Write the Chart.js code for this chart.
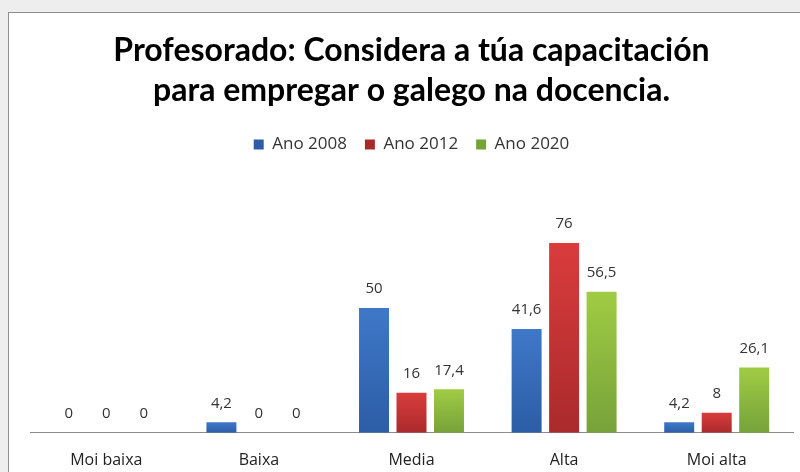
<!DOCTYPE html>
<html>
<head>
<meta charset="utf-8">
<script src="https://cdn.jsdelivr.net/npm/chart.js@4"></script>
<style>
  html, body { margin: 0; padding: 0; }
  body { width: 800px; height: 472px; background: #eeeeee; position: relative; overflow: hidden; }
  #box { position: absolute; left: 8px; top: 12px; width: 820px; height: 500px; background: #ffffff; border: 1px solid #8e8e8e; }
  #c { position: absolute; left: 0; top: 0; }
</style>
</head>
<body>
<div id="box"></div>
<canvas id="c" width="800" height="472"></canvas>
<script>
const titleLines = ["Profesorado: Considera a túa capacitación", "para empregar o galego na docencia."];
const categories = ["Moi baixa", "Baixa", "Media", "Alta", "Moi alta"];
const seriesNames = ["Ano 2008", "Ano 2012", "Ano 2020"];
const values2008 = [0, 4.2, 50, 41.6, 4.2];
const values2012 = [0, 0, 16, 76, 8];
const values2020 = [0, 0, 17.4, 56.5, 26.1];
const colorTop = ["#3f78c8", "#da3c3c", "#a0cc44"];
const colorBottom = ["#2c5da6", "#aa2a2c", "#76a23a"];
const legendColors = ["#3a6fbf", "#c83232", "#8fbc3e"];

function barFill(i) {
  return function (ctx) {
    const chart = ctx.chart;
    const area = chart.chartArea;
    if (!area || ctx.type !== 'data') return legendColors[i];
    const y = chart.scales.y;
    const v = ctx.raw || 0;
    const top = y.getPixelForValue(v);
    const bottom = y.getPixelForValue(0);
    if (!isFinite(top) || bottom - top < 1) return colorBottom[i];
    const g = chart.ctx.createLinearGradient(0, top, 0, bottom);
    g.addColorStop(0, colorTop[i]);
    g.addColorStop(1, colorBottom[i]);
    return g;
  };
}

const allValues = [values2008, values2012, values2020];
const datasets = allValues.map((vals, i) => ({
  label: seriesNames[i],
  data: vals,
  backgroundColor: barFill(i),
  borderWidth: 0,
  categoryPercentage: 0.737,
  barPercentage: 0.8
}));

const legendGap = {
  id: 'legendGap',
  beforeInit(chart) {
    if (!chart.legend) return;
    const orig = chart.legend.fit;
    chart.legend.fit = function () {
      orig.bind(chart.legend)();
      this.height += 70;
    };
  }
};

const valueLabels = {
  id: 'valueLabels',
  afterDatasetsDraw(chart) {
    const ctx = chart.ctx;
    ctx.save();
    ctx.font = '15px "Open Sans"';
    ctx.fillStyle = '#333333';
    ctx.textAlign = 'center';
    ctx.textBaseline = 'middle';
    chart.data.datasets.forEach((ds, di) => {
      const meta = chart.getDatasetMeta(di);
      meta.data.forEach((el, idx) => {
        const v = ds.data[idx];
        ctx.fillText(String(v).replace('.', ','), el.x, el.y - 19);
      });
    });
    ctx.restore();
  }
};

new Chart(document.getElementById('c'), {
  type: 'bar',
  data: { labels: categories, datasets: datasets },
  options: {
    responsive: false,
    devicePixelRatio: 1,
    animation: false,
    layout: { padding: { left: 30, right: 7, top: 0, bottom: -16 } },
    plugins: {
      title: {
        display: true,
        text: titleLines,
        color: '#000000',
        font: { family: 'Lato', weight: 'bold', size: 32, lineHeight: 1.25 },
        padding: { top: 31, bottom: 7 }
      },
      legend: {
        display: true,
        labels: {
          boxWidth: 10,
          boxHeight: 10,
          padding: 18,
          color: '#333333',
          font: { family: 'Open Sans', size: 17 }
        }
      },
      tooltip: { enabled: false }
    },
    scales: {
      x: {
        grid: { display: false, drawTicks: false },
        border: { display: true, color: '#8c8c8c', width: 1 },
        ticks: { padding: 18, color: '#222222', font: { family: 'Open Sans', size: 16 } }
      },
      y: {
        display: false,
        min: 0,
        max: 80
      }
    }
  },
  plugins: [legendGap, valueLabels]
});
</script>
</body>
</html>
